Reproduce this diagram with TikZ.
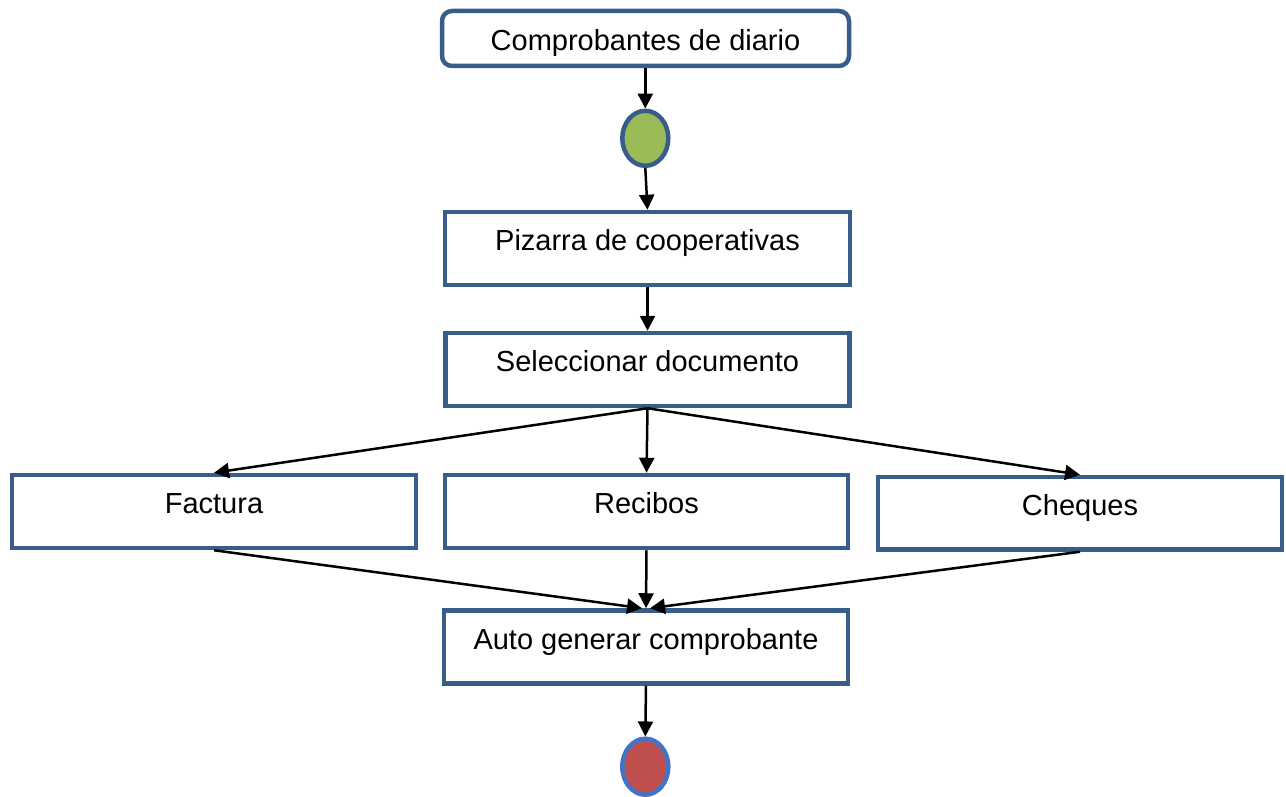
\documentclass[tikz,border=0pt]{standalone}
\usepackage{fontspec}
\setmainfont{Liberation Sans}
\usetikzlibrary{arrows.meta,shapes.geometric}
\definecolor{boxblue}{HTML}{385D8A}
\definecolor{startgreen}{HTML}{9BBB59}
\definecolor{endred}{HTML}{C0504D}
\definecolor{endblue}{HTML}{4472C4}
\tikzset{
  stepbox/.style={draw=boxblue, line width=4.5pt, fill=white, rectangle, inner sep=0pt,
    minimum width=404pt, minimum height=73pt, text height=21pt, text depth=16.6pt,
    font=\fontsize{29}{34}\selectfont},
  startbox/.style={stepbox, rounded corners=10pt, minimum width=407pt, minimum height=55pt,
    text height=24pt, text depth=0pt},
  startdot/.style={ellipse, draw=boxblue, line width=4.5pt, fill=startgreen, inner sep=0pt,
    minimum width=46pt, minimum height=55pt},
  enddot/.style={ellipse, draw=endblue, line width=4.5pt, fill=endred, inner sep=0pt,
    minimum width=46pt, minimum height=56pt},
  arr/.style={line width=2.5pt, -{Triangle[length=15pt,width=15pt]}}
}
\begin{document}
\begin{tikzpicture}[x=1pt,y=-1pt]
\useasboundingbox (0,0) rectangle (1286,797);
\node[startbox] (top) at (645.5,38.5) {Comprobantes de diario};
\node[startdot] (start) at (645.3,138.3) {};
\node[stepbox, minimum width=405pt] (piz) at (647.5,248.5) {Pizarra de cooperativas};
\node[stepbox] (sel) at (647.5,369.5) {Seleccionar documento};
\node[stepbox] (fac) at (214,511.5) {Factura};
\node[stepbox, minimum width=403pt] (rec) at (646.5,511.5) {Recibos};
\node[stepbox, minimum height=72.5pt] (che) at (1080,513.25) {Cheques};
\node[stepbox] (auto) at (646,647) {Auto generar comprobante};
\node[enddot] (end) at (645.3,766.7) {};

\draw[arr] (top.south -| start.north) -- (start.north);
\draw[arr] (start.south) -- (piz.north);
\draw[arr] (piz.south) -- (sel.north);
\draw[arr] (sel.south) -- (fac.north);
\draw[arr] (sel.south) -- (rec.north);
\draw[arr] (sel.south) -- (che.north);
\draw[arr] (fac.south) -- ([xshift=-4pt]auto.north);
\draw[arr] (rec.south) -- (auto.north);
\draw[arr] (che.south) -- ([xshift=4pt]auto.north);
\draw[arr] (auto.south) -- (end.north);
\end{tikzpicture}
\end{document}
